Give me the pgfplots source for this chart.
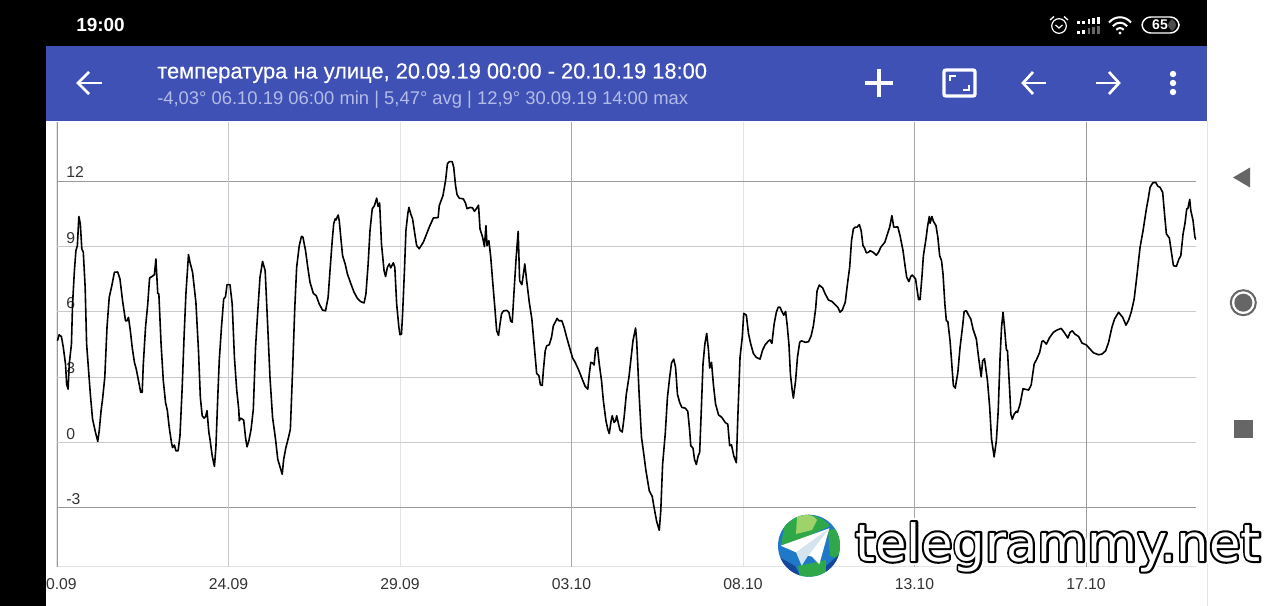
\documentclass[border=0pt]{standalone}
\usepackage{fontspec}
\setmainfont{Liberation Sans}
\newfontfamily\wmfont{DejaVu Sans}
\newfontfamily\medfont[FakeBold=0.35]{Liberation Sans}
\usepackage{pgfplots}
\pgfplotsset{compat=1.18}
\definecolor{barblue}{HTML}{3F51B5}
\definecolor{subtxt}{HTML}{B3BBE8}
\definecolor{gridlight}{HTML}{E2E4EA}
\definecolor{gridmid}{HTML}{C9CACE}
\definecolor{griddark}{HTML}{9A9A9C}
\definecolor{ticktxt}{HTML}{333333}
\definecolor{navgrey}{HTML}{666666}
\definecolor{globeblue}{HTML}{1F78C8}
\definecolor{globedeep}{HTML}{14479C}
\definecolor{globegreen}{HTML}{2FA84A}
\definecolor{globelime}{HTML}{9ED36A}
\definecolor{planefold}{HTML}{D5E3EF}
\begin{document}
\begin{tikzpicture}
\useasboundingbox (0,0) rectangle (960pt,-454.5pt);
\fill[white] (0,0) rectangle (960pt,-454.5pt);
\begin{axis}[
  at={(42.75pt,-424.95pt)},anchor=south west,
  scale only axis,width=854.25pt,height=333.45pt,
  xmin=0,xmax=30.75,ymin=-5.7,ymax=14.72,
  axis x line*=bottom,axis y line*=left,
  x axis line style={-,draw=gridlight},
  y axis line style={-,draw=griddark},
  major tick length=0pt,
  xtick={0,4.63,9.26,13.89,18.52,23.15,27.78},
  xticklabels={20.09,24.09,29.09,03.10,08.10,13.10,17.10},
  ytick={-3,0,3,6,9,12},
  yticklabels={-3,0,3,6,9,12},
  xmajorgrids,ymajorgrids,
  major grid style={draw=gridlight,line width=0.75pt},
  tick label style={font=\fontsize{11.8}{14}\selectfont,text=ticktxt},
  yticklabel style={anchor=base west,xshift=6.75pt,yshift=2.6pt,inner sep=0pt},
  xticklabel style={anchor=base,yshift=-16.8pt,inner sep=0pt},
  axis on top=false,
]
\draw[griddark,line width=0.75pt] (axis cs:0,12)--(axis cs:30.75,12);
\draw[griddark,line width=0.75pt] (axis cs:0,-3)--(axis cs:30.75,-3);
\foreach \v in {0,3,6,9}{\edef\tmp{\noexpand\draw[gridmid,line width=0.75pt] (axis cs:0,\v)--(axis cs:30.75,\v);}\tmp}
\draw[gridmid,line width=0.75pt] (axis cs:4.63,-5.7)--(axis cs:4.63,14.72);
\draw[griddark!70!gridmid,line width=0.75pt] (axis cs:13.89,-5.7)--(axis cs:13.89,14.72);
\draw[griddark!70!gridmid,line width=0.75pt] (axis cs:23.15,-5.7)--(axis cs:23.15,14.72);
\draw[griddark,line width=0.75pt] (axis cs:27.78,-5.7)--(axis cs:27.78,14.72);
\addplot[black,line width=1.2pt,line join=round,no markers] coordinates {
(0.01,4.67)(0.06,4.95)(0.12,4.86)(0.17,4.37)(0.23,3.60)(0.26,2.68)(0.30,2.45)(0.33,3.60)(0.39,4.52)(0.42,6.36)
(0.47,7.89)(0.51,8.81)(0.55,9.04)(0.59,10.38)(0.63,10.04)(0.67,8.89)(0.71,8.74)(0.76,7.13)(0.80,4.52)(0.86,3.14)
(0.90,2.22)(0.96,1.07)(1.04,0.46)(1.10,0.05)(1.14,0.54)(1.19,1.46)(1.23,1.99)(1.29,2.99)(1.35,5.29)(1.41,6.67)
(1.48,7.20)(1.55,7.82)(1.64,7.83)(1.70,7.51)(1.77,6.51)(1.85,5.59)(1.89,5.59)(1.93,5.75)(1.98,5.13)(2.03,4.37)
(2.09,3.68)(2.14,3.37)(2.21,2.76)(2.26,2.30)(2.30,2.30)(2.33,3.60)(2.39,5.29)(2.45,6.36)(2.50,7.56)(2.57,7.63)
(2.63,7.71)(2.67,8.43)(2.72,6.85)(2.75,6.82)(2.81,4.52)(2.87,2.84)(2.93,1.84)(2.98,1.46)(3.03,0.69)(3.09,0)
(3.12,-0.23)(3.17,-0.12)(3.21,-0.38)(3.27,-0.38)(3.32,0.31)(3.38,2.53)(3.43,4.83)(3.48,6.82)(3.55,8.63)(3.59,8.28)
(3.66,7.82)(3.75,6.44)(3.82,4.21)(3.87,2.07)(3.92,1.23)(3.97,1.12)(4.01,1.18)(4.05,1.46)(4.10,0.46)(4.13,0.15)
(4.19,-0.61)(4.25,-1.10)(4.29,-0.23)(4.34,2.07)(4.38,3.75)(4.44,5.29)(4.50,6.59)(4.55,6.70)(4.59,7.25)(4.67,7.25)
(4.73,6.36)(4.79,3.91)(4.85,2.45)(4.91,1.46)(4.92,1.00)(4.96,1.12)(5.04,1.03)(5.09,0.23)(5.13,-0.20)(5.18,0.08)
(5.24,0.61)(5.30,1.53)(5.36,4.37)(5.41,5.75)(5.48,7.59)(5.55,8.32)(5.62,7.89)(5.69,5.29)(5.75,2.99)(5.82,1.15)
(5.90,0.15)(5.96,-0.77)(6.08,-1.46)(6.12,-0.77)(6.18,-0.23)(6.25,0.23)(6.30,0.61)(6.36,3.30)(6.42,6.21)(6.47,8.05)
(6.54,9.04)(6.60,9.47)(6.64,9.43)(6.71,8.81)(6.77,8.05)(6.83,7.36)(6.92,6.85)(7.00,6.74)(7.08,6.36)(7.17,6.08)
(7.25,6.05)(7.32,6.67)(7.37,7.89)(7.43,9.27)(7.47,10.04)(7.51,10.27)(7.53,10.22)(7.59,10.45)(7.62,10.19)(7.67,9.27)
(7.71,8.58)(7.78,8.20)(7.84,7.74)(7.93,7.31)(8.02,6.90)(8.11,6.62)(8.20,6.47)(8.29,6.41)(8.34,6.82)(8.40,8.20)
(8.45,9.73)(8.51,10.73)(8.57,10.88)(8.63,11.22)(8.67,10.84)(8.71,11.00)(8.76,9.12)(8.83,7.89)(8.87,7.62)(8.92,8.05)
(8.97,8.20)(9.01,8.02)(9.08,8.25)(9.12,8.05)(9.17,6.36)(9.23,5.29)(9.26,4.95)(9.30,4.98)(9.33,5.90)(9.38,7.89)
(9.42,9.73)(9.47,10.50)(9.50,10.80)(9.55,10.50)(9.60,10.27)(9.66,9.58)(9.71,9.04)(9.78,8.90)(9.83,9.04)(9.89,9.20)
(9.96,9.50)(10.05,9.89)(10.16,10.31)(10.29,10.33)(10.32,10.88)(10.37,11.11)(10.42,11.34)(10.49,12.03)(10.54,12.80)(10.59,12.90)
(10.67,12.90)(10.71,12.64)(10.76,11.80)(10.80,11.39)(10.86,11.22)(10.97,11.19)(11.03,10.99)(11.07,10.74)(11.16,10.80)(11.22,10.77)
(11.27,10.62)(11.32,10.73)(11.38,10.90)(11.42,9.81)(11.49,9.43)(11.54,9.00)(11.58,9.96)(11.61,9.04)(11.66,9.27)(11.71,8.51)
(11.76,7.43)(11.82,6.21)(11.87,5.13)(11.92,4.92)(11.96,5.44)(12.00,5.90)(12.05,6.04)(12.14,6.07)(12.20,5.98)(12.25,5.56)
(12.29,5.53)(12.34,6.97)(12.39,8.35)(12.45,9.70)(12.49,7.43)(12.55,7.25)(12.58,7.59)(12.63,8.20)(12.68,7.43)(12.75,6.44)
(12.82,5.67)(12.88,4.52)(12.95,3.17)(13.01,3.07)(13.05,2.65)(13.10,2.62)(13.13,3.30)(13.18,4.21)(13.22,4.44)(13.29,4.49)
(13.35,4.83)(13.40,5.36)(13.46,5.56)(13.50,5.70)(13.55,5.59)(13.63,5.59)(13.69,5.29)(13.76,4.83)(13.85,4.29)(13.92,3.88)
(13.99,3.68)(14.09,3.30)(14.18,2.91)(14.26,2.57)(14.33,2.45)(14.37,3.14)(14.41,3.68)(14.46,3.65)(14.50,3.56)(14.54,4.29)
(14.59,4.37)(14.64,3.60)(14.70,2.84)(14.75,1.92)(14.82,1.00)(14.87,0.61)(14.91,0.41)(14.96,1.00)(14.99,1.23)(15.04,0.92)
(15.08,1.00)(15.11,1.23)(15.17,0.77)(15.20,0.57)(15.26,0.48)(15.31,1.15)(15.37,2.22)(15.44,2.99)(15.50,3.91)(15.55,4.67)
(15.62,5.26)(15.65,4.67)(15.67,3.91)(15.72,2.07)(15.78,0.23)(15.83,-0.38)(15.90,-1.30)(15.99,-2.22)(16.07,-2.48)(16.12,-2.99)
(16.19,-3.63)(16.26,-4.03)(16.30,-3.14)(16.35,-1.00)(16.42,0.38)(16.48,2.07)(16.54,2.99)(16.59,3.65)(16.65,3.83)(16.70,3.45)
(16.75,2.22)(16.81,1.84)(16.87,1.61)(16.96,1.58)(17.03,1.43)(17.08,0.54)(17.11,-0.15)(17.17,-0.26)(17.21,-0.77)(17.26,-1.01)
(17.31,-0.61)(17.35,-0.46)(17.39,1.30)(17.44,3.60)(17.49,4.52)(17.54,5.01)(17.59,4.21)(17.62,3.42)(17.67,3.68)(17.72,2.68)
(17.78,1.76)(17.86,1.27)(17.95,1.15)(18.04,0.92)(18.11,0.84)(18.16,-0.15)(18.21,-0.11)(18.27,-0.61)(18.34,-0.93)(18.38,1.15)
(18.44,3.91)(18.50,4.83)(18.54,5.93)(18.61,5.85)(18.67,4.98)(18.73,4.52)(18.80,4.09)(18.88,3.91)(18.98,3.83)(19.05,4.25)
(19.12,4.49)(19.21,4.67)(19.25,4.71)(19.30,4.55)(19.36,5.44)(19.42,5.98)(19.47,6.21)(19.52,6.21)(19.58,5.98)(19.62,5.85)
(19.67,6.02)(19.71,5.44)(19.76,4.52)(19.80,3.14)(19.85,2.38)(19.88,2.04)(19.94,2.84)(19.99,3.91)(20.05,4.60)(20.10,4.67)
(20.20,4.60)(20.29,4.63)(20.36,4.90)(20.42,5.36)(20.48,6.13)(20.52,6.97)(20.58,7.23)(20.67,7.10)(20.74,6.82)(20.83,6.54)
(20.92,6.48)(21.01,6.33)(21.08,6.21)(21.14,5.99)(21.20,6.08)(21.28,6.44)(21.34,7.28)(21.40,8.05)(21.45,9.27)(21.50,9.81)
(21.55,9.89)(21.60,9.89)(21.66,10.01)(21.71,9.73)(21.76,9.04)(21.80,8.94)(21.85,8.71)(21.91,8.74)(21.95,8.81)(22.03,8.74)
(22.12,8.60)(22.18,8.74)(22.24,8.97)(22.35,9.20)(22.42,9.58)(22.48,9.89)(22.54,10.42)(22.59,9.89)(22.70,9.90)(22.76,9.50)
(22.84,8.81)(22.90,8.05)(22.94,7.59)(23.00,7.39)(23.05,7.63)(23.09,7.69)(23.18,7.51)(23.21,7.13)(23.26,6.56)(23.30,6.56)
(23.35,7.59)(23.39,8.58)(23.46,9.35)(23.50,9.89)(23.55,10.38)(23.57,10.07)(23.62,10.38)(23.66,10.16)(23.73,9.96)(23.78,9.43)
(23.83,8.58)(23.88,8.35)(23.92,7.74)(23.97,6.36)(24.01,5.59)(24.05,5.56)(24.11,4.67)(24.17,3.30)(24.20,2.61)(24.25,2.50)
(24.32,3.22)(24.38,4.37)(24.45,5.36)(24.49,6.02)(24.55,6.05)(24.61,5.85)(24.67,5.67)(24.73,5.21)(24.82,4.75)(24.88,3.91)
(24.95,3.02)(24.99,3.75)(25.04,3.85)(25.12,2.84)(25.18,1.61)(25.23,0.15)(25.30,-0.66)(25.36,0.08)(25.41,1.46)(25.46,3.91)
(25.50,5.29)(25.54,5.98)(25.58,5.29)(25.63,4.26)(25.66,4.21)(25.72,2.38)(25.75,1.30)(25.79,1.07)(25.84,1.30)(25.90,1.43)
(25.93,1.38)(26.00,1.76)(26.08,2.47)(26.15,2.44)(26.23,2.41)(26.30,2.64)(26.38,3.60)(26.45,3.83)(26.53,4.14)(26.59,4.64)
(26.63,4.67)(26.71,4.52)(26.80,4.83)(26.90,5.06)(26.99,5.16)(27.11,5.24)(27.19,5.06)(27.29,4.80)(27.35,5.06)(27.41,5.13)
(27.48,4.98)(27.58,4.87)(27.67,4.57)(27.79,4.48)(27.89,4.29)(27.98,4.12)(28.12,4.03)(28.21,4.06)(28.31,4.21)(28.39,4.60)
(28.48,5.29)(28.55,5.67)(28.66,5.98)(28.77,5.75)(28.86,5.39)(28.93,5.62)(29.00,5.98)(29.08,6.59)(29.15,7.59)(29.24,8.97)
(29.32,9.73)(29.41,10.73)(29.46,11.19)(29.51,11.72)(29.58,11.92)(29.66,11.95)(29.72,11.77)(29.78,11.72)(29.85,11.49)(29.90,10.50)
(29.95,9.58)(30.03,9.39)(30.08,8.81)(30.14,8.12)(30.22,8.09)(30.29,8.43)(30.34,8.58)(30.40,9.58)(30.45,10.04)(30.50,10.73)
(30.53,10.74)(30.58,11.16)(30.61,10.65)(30.67,10.19)(30.72,9.43)(30.75,9.32)
};
\end{axis}
\begin{scope}[x=0.75pt,y=-0.75pt]
% phone chrome
\fill[black] (0,0) rectangle (46,606);
\fill[black] (46,0) rectangle (1207,46);
\fill[white] (1207,0) rectangle (1280,606);
\draw[gridlight,line width=0.75pt] (1207,121) -- (1207,606);
\fill[barblue] (46,46) rectangle (1207,121);
% status bar
\node[anchor=base west,inner sep=0,text=white,font=\fontsize{14.2}{16}\selectfont\bfseries] at (76,31.5) {19:00};
\draw[white,line width=0.9pt] (1059,26) circle (7.3);
\draw[white,line width=0.9pt] (1055.5,25)--(1059,28)--(1062.5,25);
\draw[white,line width=1pt] (1050,20)--(1054,16.5) (1068,20)--(1064,16.5);
\foreach \bx/\bt in {1077/21.5,1082/21,1087.5/19.5,1092/18.5,1097/17}{
  \fill[white] (\bx,\bt) rectangle ++(2.8,24-\bt);
}
\fill[white] (1077,31) rectangle ++(2.8,3);
\fill[white] (1082,30) rectangle ++(2.8,4);
\fill[white!40!black] (1087.5,28.5) rectangle ++(2.8,5.5);
\fill[white!40!black] (1092,27.5) rectangle ++(2.8,6.5);
\fill[white!40!black] (1097,26) rectangle ++(2.8,8);
\fill[white] (1120,33) circle (1.7);
\draw[white,line width=1.5pt] (1109,22.5) .. controls (1115,15.5) and (1125,15.5) .. (1131,22.5);
\draw[white,line width=1.5pt] (1112.8,26.2) .. controls (1117,21.5) and (1123,21.5) .. (1127.2,26.2);
\draw[white,line width=1.5pt] (1116.3,29.8) .. controls (1118.5,27.5) and (1121.5,27.5) .. (1123.7,29.8);
\fill[white!30!black,rounded corners=5] (1168,19) rectangle (1176,31);
\draw[white,line width=1.1pt,rounded corners=6.5] (1142,17) rectangle (1179,33);
\node[text=white,inner sep=0,font=\fontsize{10.5}{11}\selectfont\bfseries] at (1160,25) {65};
% app bar
\node[anchor=base west,inner sep=0,text=white,font=\fontsize{16.4}{18}\medfont] at (157,78.5) {температура на улице, 20.09.19 00:00 - 20.10.19 18:00};
\node[anchor=base west,inner sep=0,text=subtxt,font=\fontsize{13.8}{16}\selectfont] at (157,104.5) {-4,03° 06.10.19 06:00 min | 5,47° avg | 12,9° 30.09.19 14:00 max};
\begin{scope}[white,line width=2pt]
\draw (78,83)--(102,83);
\draw (89,72)--(78,83)--(89,94);
\draw[line width=3pt] (865,83)--(893,83) (879,69)--(879,97);
\draw[line width=2.5pt,rounded corners=1.5] (944,70) rectangle (975,96);
\draw[line width=2pt] (950,81)--(950,76)--(956,76) (969,85)--(969,90)--(963,90);
\draw (1023,83)--(1046,83);
\draw (1033,72)--(1023,83)--(1033,94);
\draw (1096,83)--(1119,83);
\draw (1109,72)--(1119,83)--(1109,94);
\end{scope}
\fill[white] (1173,74) circle (3.2) (1173,83) circle (3.2) (1173,92) circle (3.2);
% navigation buttons
\fill[navgrey] (1250,167.5)--(1250,187.5)--(1233,177.5)--cycle;
\draw[navgrey,line width=1.5pt] (1243.3,302.7) circle (12.5);
\fill[navgrey] (1243.3,302.7) circle (9);
\fill[navgrey] (1234,420) rectangle (1253,437.5);
% watermark globe
\begin{scope}
\clip (809,545.7) circle (31);
\fill[globeblue] (777,514) rectangle (841,578);
\fill[globegreen] (785,522) .. controls (800,510) and (822,514) .. (830,526) -- (800,540) -- (781,546) -- cycle;
\fill[globelime] (797,517) .. controls (805,513) and (815,515) .. (817,520) -- (812,530) -- (796,534) -- cycle;
\fill[globegreen] (828,530) -- (842,528) -- (842,560) -- (830,556) -- cycle;
\fill[globegreen] (798,566) -- (826,560) -- (826,580) -- (800,580) -- cycle;
\fill[globedeep] (777,556) -- (795,566) -- (802,580) -- (777,580) -- cycle;
\fill[globedeep] (826,566) -- (842,552) -- (842,580) -- (826,580) -- cycle;
\end{scope}
\fill[white] (829.3,528.3)--(780.7,545.7)--(796,552.3)--(812,556.7)--(819.3,564.3)--cycle;
\fill[planefold] (829.3,528.3)--(796,552.3)--(801.7,565.7)--(807.3,556.7)--cycle;
% watermark text: white halo, black outline, white fill
\node[anchor=base west,inner sep=0,font=\fontsize{38.4}{40}\wmfont] at (855,561) {\special{pdf:code q 2 Tr 6 w 1 j 1 G 1 g}telegrammy.net\special{pdf:code Q}};
\node[anchor=base west,inner sep=0,font=\fontsize{38.4}{40}\wmfont] at (855,561) {\special{pdf:code q 2 Tr 3.1 w 1 j 0 G 0 g}telegrammy.net\special{pdf:code Q}};
\node[anchor=base west,inner sep=0,text=white,font=\fontsize{38.4}{40}\wmfont] at (855,561) {telegrammy.net};
\end{scope}
\end{tikzpicture}
\end{document}
